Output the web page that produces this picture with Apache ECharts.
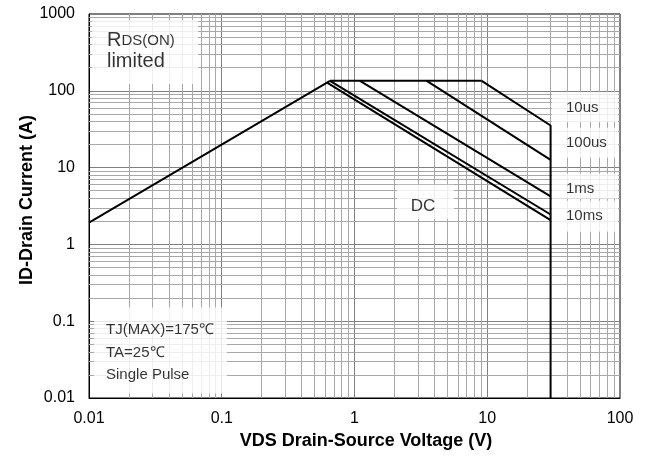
<!DOCTYPE html>
<html><head><meta charset="utf-8">
<script src="https://cdn.jsdelivr.net/npm/echarts@6/dist/echarts.min.js"></script>
<style>html,body{margin:0;padding:0;background:#fff}#c{width:647px;height:456px}</style>
</head><body><div id="c"></div>
<script>
// ---- data ----
const xTickLabels = ['0.01', '0.1', '1', '10', '100'];
const yTickLabels = ['0.01', '0.1', '1', '10', '100', '1000'];
const vdsRds = [0.01, 0.654];      const idRds = [1.92, 135];
const vdsFlat = [0.654, 9.08];     const idFlat = [135, 135];
const vds10us = [9.08, 30, 30];    const id10us = [135, 35.3, 0.01];
const vds100us = [3.5, 30];        const id100us = [135, 12.6];
const vds1ms = [1.10, 30];         const id1ms = [135, 4.21];
const vds10ms = [0.654, 30];       const id10ms = [135, 2.45];
const vdsDC = [0.626, 30];         const idDC = [126.7, 2.07];
const minorMult = [2, 3, 4, 5, 6, 7, 8, 9];
const xDecades = [0.01, 0.1, 1, 10];
const yDecades = [0.01, 0.1, 1, 10, 100];

const pairs = (xs, ys) => xs.map((x, i) => [x, ys[i]]);
const FONT = '"Liberation Sans", Arial, sans-serif';

const vGrid = [];
xDecades.forEach(d => minorMult.forEach(k => vGrid.push({ xAxis: +(k * d).toPrecision(6) })));
const hGrid = [];
yDecades.forEach(d => minorMult.forEach(k => hGrid.push({ yAxis: +(k * d).toPrecision(6) })));

const curveStyle = { color: '#000', width: 2 };
function curve(name, xs, ys) {
  return { name, type: 'line', data: pairs(xs, ys), symbol: 'none', z: 5,
    lineStyle: curveStyle, animation: false, silent: true };
}

// annotation boxes (anchor = left edge / vertical centre, in data coords)
function tok(fs, lh) { return { fontSize: fs, fontFamily: FONT, color: '#000', lineHeight: lh }; }
function box(x, y, text, w, h, pad, rich, extra) {
  return { value: [x, y], label: Object.assign({ show: true, position: 'inside', formatter: text,
    align: 'left', verticalAlign: 'middle', width: w, height: h, padding: pad,
    backgroundColor: '#fff', color: '#000', fontFamily: FONT, fontSize: 15, rich: rich }, extra || {}) };
}
const annotations = [
  box(0.01053, 320.5, '{R|R}{s|DS(ON)}\n{l|limited}', 91, 54, [10, 0, 0, 15], {
      R: Object.assign(tok(20, 21), { verticalAlign: 'bottom' }),
      s: Object.assign(tok(15, 21), { verticalAlign: 'bottom', padding: [0, 0, 3, 0] }),
      l: tok(20, 21) }, { lineHeight: 21 }),
  box(0.01091, 0.04147, '{a|TJ(MAX)=175℃}\n{a|TA=25℃}\n{a|Single Pulse}', 121, 74.5, [11.5, 0, 0, 12], { a: tok(15, 22.5) }),
  box(30.74, 61.75, '{a|10us}', 52, 23.5, [6.5, 0, 0, 14], { a: tok(15, 18) }),
  box(30.74, 21.01, '{a|100us}', 52, 24, [6, 0, 0, 14], { a: tok(15, 18) }),
  box(30.74, 5.71, '{a|1ms}', 52, 19, [6, 0, 0, 14], { a: tok(15, 18) }),
  box(30.74, 2.326, '{a|10ms}', 52, 25, [6, 0, 0, 14], { a: tok(15, 18) }),
  box(2.09, 3.59, '{a|DC}', 43.3, 22.3, [11.7, 0, 0, 13.7], { a: tok(17, 20) })
];

const fmt = v => String(+(+v).toPrecision(6));

const option = {
  animation: false,
  backgroundColor: '#fff',
  grid: { left: 89, right: 27, top: 14, bottom: 58, show: true, borderColor: '#000', borderWidth: 1, backgroundColor: 'transparent' },
  xAxis: {
    type: 'log', logBase: 10, min: 0.01, max: 100,
    name: 'VDS Drain-Source Voltage (V)', nameLocation: 'middle', nameGap: 34, nameMoveOverlap: false,
    nameTextStyle: { fontFamily: FONT, fontWeight: 'bold', fontSize: 18, color: '#000', padding: [0, 0, 0, 23] },
    axisLine: { show: true, lineStyle: { color: '#000', width: 1 } },
    axisTick: { show: false },
    axisLabel: { fontFamily: FONT, fontSize: 16, color: '#000', margin: 13,
      formatter: v => xTickLabels.find(t => Math.abs(Math.log10(+t) - Math.log10(v)) < 1e-6) || fmt(v) },
    splitLine: { show: true, lineStyle: { color: '#808080', width: 1 } }
  },
  yAxis: {
    type: 'log', logBase: 10, min: 0.01, max: 1000,
    name: 'ID-Drain Current (A)', nameLocation: 'middle', nameGap: 53, nameMoveOverlap: false,
    nameTextStyle: { fontFamily: FONT, fontWeight: 'bold', fontSize: 18, color: '#000', padding: [0, 0, 0, 12] },
    axisLine: { show: true, lineStyle: { color: '#000', width: 1 } },
    axisTick: { show: false },
    axisLabel: { fontFamily: FONT, fontSize: 16, color: '#000', margin: 14,
      formatter: v => yTickLabels.find(t => Math.abs(Math.log10(+t) - Math.log10(v)) < 1e-6) || fmt(v) },
    splitLine: { show: true, lineStyle: { color: '#808080', width: 1 } }
  },
  series: [
    { type: 'line', data: [], z: 1, silent: true, symbol: 'none',
      markLine: { z: 1, silent: true, symbol: ['none', 'none'], label: { show: false }, animation: false,
        lineStyle: { color: '#a8a8a8', width: 1, type: 'solid' }, emphasis: { disabled: true },
        data: vGrid.concat(hGrid) } },
    { type: 'scatter', z: 3, symbolSize: 1, itemStyle: { color: 'transparent' }, silent: true,
      data: annotations },
    curve('RDS', vdsRds, idRds),
    curve('limit', vdsFlat, idFlat),
    curve('10us', vds10us, id10us),
    curve('100us', vds100us, id100us),
    curve('1ms', vds1ms, id1ms),
    curve('10ms', vds10ms, id10ms),
    curve('DC', vdsDC, idDC)
  ]
};
const chart = echarts.init(document.getElementById('c'), null, { renderer: 'canvas' });
chart.setOption(option);
</script></body></html>
